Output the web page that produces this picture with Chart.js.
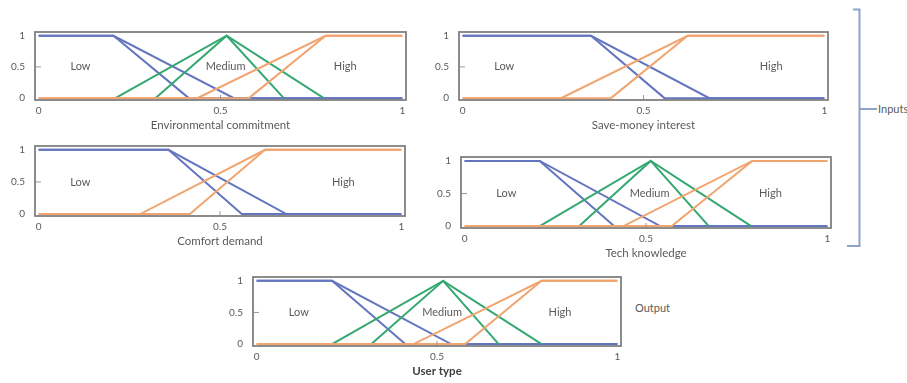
<!DOCTYPE html>
<html>
<head>
<meta charset="utf-8">
<script src="https://cdn.jsdelivr.net/npm/chart.js@4/dist/chart.umd.min.js"></script>
<style>
  html, body { margin: 0; padding: 0; background: #fff; }
  #wrap { position: relative; width: 907px; height: 383px; overflow: hidden; background: #fff; font-family: Lato, "Open Sans", sans-serif; -webkit-font-smoothing: antialiased; }
  #wrap canvas { position: absolute; }
  .side { position: absolute; color: #5a5a5a; font-size: 11px; line-height: 12px; white-space: nowrap; }
</style>
</head>
<body>
<div id="wrap">
  <svg width="907" height="383" style="position:absolute;left:0;top:0" xmlns="http://www.w3.org/2000/svg">
    <polyline points="853,9.5 859.5,9.5 859.5,246 847,246" fill="none" stroke="#8ea3c9" stroke-width="2"/>
    <line x1="859.5" y1="109" x2="877" y2="109" stroke="#8ea3c9" stroke-width="2"/>
  </svg>
  <div class="side" style="left:878px;top:103px;">Inputs</div>
  <div class="side" style="left:635px;top:302px;">Output</div>
</div>
<script>
// Axis ticks shared by every panel
const xTicks = [0, 0.5, 1];
const yTicks = [0, 0.5, 1];
const setLabels = ['Low', 'Medium', 'High'];

// Environmental commitment: breakpoints of each membership function
const envLowOuter  = [0, 0.206, 0.537, 1];   // membership 1,1,0,0
const envLowInner  = [0, 0.206, 0.413, 1];
const envMedOuter  = [0.211, 0.517, 0.784];  // membership 0,1,0
const envMedInner  = [0.321, 0.517, 0.674];
const envHighOuter = [0, 0.436, 0.789, 1];   // membership 0,0,1,1
const envHighInner = [0, 0.578, 0.789, 1];
const envLabelX    = [0.115, 0.514, 0.843];

// Save-money interest
const monLowOuter  = [0, 0.355, 0.682, 1];
const monLowInner  = [0, 0.355, 0.558, 1];
const monHighOuter = [0, 0.272, 0.622, 1];
const monHighInner = [0, 0.410, 0.622, 1];
const monLabelX    = [0.115, null, 0.853];

// Comfort demand
const comLowOuter  = [0, 0.358, 0.683, 1];
const comLowInner  = [0, 0.358, 0.560, 1];
const comHighOuter = [0, 0.280, 0.624, 1];
const comHighInner = [0, 0.417, 0.624, 1];
const comLabelX    = [0.115, null, 0.840];

// Tech knowledge
const tecLowOuter  = [0, 0.207, 0.539, 1];
const tecLowInner  = [0, 0.207, 0.412, 1];
const tecMedOuter  = [0.207, 0.513, 0.790];
const tecMedInner  = [0.316, 0.513, 0.673];
const tecHighOuter = [0, 0.438, 0.793, 1];
const tecHighInner = [0, 0.571, 0.793, 1];
const tecLabelX    = [0.115, 0.510, 0.843];

// User type (output)
const usrLowOuter  = [0, 0.209, 0.539, 1];
const usrLowInner  = [0, 0.209, 0.412, 1];
const usrMedOuter  = [0.209, 0.517, 0.790];
const usrMedInner  = [0.318, 0.517, 0.671];
const usrHighOuter = [0, 0.435, 0.790, 1];
const usrHighInner = [0, 0.578, 0.790, 1];
const usrLabelX    = [0.117, 0.514, 0.841];

// Membership levels at each breakpoint, by shape
const lowLevels  = [1, 1, 0, 0];
const medLevels  = [0, 1, 0];
const highLevels = [0, 0, 1, 1];

const BLUE = '#6475c0', GREEN = '#35a872', ORANGE = '#f1a46f';
const TEXT = '#5a5a5a';
const FONT = 'Lato, "Open Sans", sans-serif';

function pts(xs, ys) { return xs.map((x, i) => ({ x: x, y: ys[i] })); }
function series(xs, ys, color) {
  return { data: pts(xs, ys), borderColor: color, borderWidth: 2, pointRadius: 0, tension: 0, fill: false };
}

// Frame, inner half-way ticks and the set names inside the plot
const panelDecor = {
  id: 'panelDecor',
  afterDatasetsDraw(chart, args, opts) {
    const { ctx, chartArea: a, scales: { x, y } } = chart;
    ctx.save();
    ctx.strokeStyle = '#9a9a9a';
    ctx.lineWidth = 1;
    const mx = x.getPixelForValue(0.5), my = y.getPixelForValue(0.5);
    ctx.beginPath();
    ctx.moveTo(mx, a.bottom); ctx.lineTo(mx, a.bottom - 5);
    ctx.moveTo(a.left, my); ctx.lineTo(a.left + 6, my);
    ctx.stroke();
    ctx.strokeStyle = '#808080';
    ctx.lineWidth = 1.8;
    ctx.strokeRect(a.left, a.top, a.right - a.left, a.bottom - a.top);
    ctx.fillStyle = TEXT;
    ctx.font = '11px ' + FONT;
    ctx.textAlign = 'center';
    ctx.textBaseline = 'middle';
    opts.labelX.forEach((lx, i) => {
      if (lx === null) return;
      ctx.fillText(setLabels[i], x.getPixelForValue(lx), y.getPixelForValue(0.5));
    });
    ctx.restore();
  }
};

const Y_AXIS_W = 35, TOP_PAD = 8, RIGHT_PAD = 8, X_AXIS_H = 32;

function makePanel(box, title, datasets, labelX, bold) {
  const cv = document.createElement('canvas');
  const w = Y_AXIS_W + box.w + RIGHT_PAD, h = TOP_PAD + box.h + X_AXIS_H;
  cv.width = w; cv.height = h;
  cv.style.width = w + 'px'; cv.style.height = h + 'px';
  cv.style.left = (box.left - Y_AXIS_W) + 'px';
  cv.style.top = (box.top - TOP_PAD) + 'px';
  document.getElementById('wrap').appendChild(cv);
  new Chart(cv, {
    type: 'line',
    data: { datasets: datasets },
    plugins: [panelDecor],
    options: {
      responsive: false,
      devicePixelRatio: 1,
      animation: false,
      events: [],
      layout: { padding: { top: TOP_PAD, right: RIGHT_PAD, left: 0, bottom: 0 } },
      plugins: { legend: { display: false }, tooltip: { enabled: false }, panelDecor: { labelX: labelX } },
      scales: {
        x: {
          type: 'linear', min: -0.01, max: 1.01,
          grid: { display: false, drawTicks: false },
          border: { display: false },
          afterBuildTicks: s => { s.ticks = xTicks.map(v => ({ value: v })); },
          afterFit: s => { s.height = X_AXIS_H; },
          ticks: { color: TEXT, font: { family: FONT, size: 10 }, padding: 5, maxRotation: 0, autoSkip: false, callback: v => String(v) },
          title: { display: true, text: title, color: bold ? '#404040' : TEXT, padding: 0,
                   font: { family: FONT, size: 11.5, weight: bold ? 'bold' : 'normal' } }
        },
        y: {
          type: 'linear', min: -0.03, max: 1.06,
          grid: { display: false, drawTicks: false },
          border: { display: false },
          afterBuildTicks: s => { s.ticks = yTicks.map(v => ({ value: v })); },
          afterFit: s => { s.width = Y_AXIS_W; },
          ticks: { color: TEXT, font: { family: FONT, size: 10 }, padding: 10, autoSkip: false, callback: v => String(v) }
        }
      }
    }
  });
}

makePanel({ left: 35, top: 24, w: 371, h: 76 }, 'Environmental commitment', [
  series(envHighOuter, highLevels, ORANGE), series(envHighInner, highLevels, ORANGE),
  series(envMedOuter, medLevels, GREEN),    series(envMedInner, medLevels, GREEN),
  series(envLowOuter, lowLevels, BLUE),     series(envLowInner, lowLevels, BLUE)
], envLabelX, false);

makePanel({ left: 459, top: 24, w: 369, h: 76 }, 'Save-money interest', [
  series(monHighOuter, highLevels, ORANGE), series(monHighInner, highLevels, ORANGE),
  series(monLowOuter, lowLevels, BLUE),     series(monLowInner, lowLevels, BLUE)
], monLabelX, false);

makePanel({ left: 35, top: 138, w: 370, h: 78 }, 'Comfort demand', [
  series(comHighOuter, highLevels, ORANGE), series(comHighInner, highLevels, ORANGE),
  series(comLowOuter, lowLevels, BLUE),     series(comLowInner, lowLevels, BLUE)
], comLabelX, false);

makePanel({ left: 461, top: 149, w: 370, h: 79 }, 'Tech knowledge', [
  series(tecHighOuter, highLevels, ORANGE), series(tecHighInner, highLevels, ORANGE),
  series(tecMedOuter, medLevels, GREEN),    series(tecMedInner, medLevels, GREEN),
  series(tecLowOuter, lowLevels, BLUE),     series(tecLowInner, lowLevels, BLUE)
], tecLabelX, false);

makePanel({ left: 253, top: 269, w: 368, h: 77 }, 'User type', [
  series(usrHighOuter, highLevels, ORANGE), series(usrHighInner, highLevels, ORANGE),
  series(usrMedOuter, medLevels, GREEN),    series(usrMedInner, medLevels, GREEN),
  series(usrLowOuter, lowLevels, BLUE),     series(usrLowInner, lowLevels, BLUE)
], usrLabelX, true);
</script>
</body>
</html>
